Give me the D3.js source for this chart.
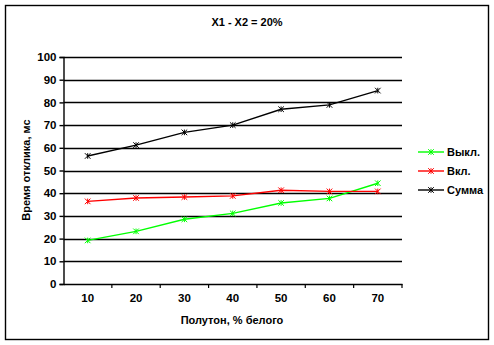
<!DOCTYPE html>
<html>
<head>
<meta charset="utf-8">
<script src="https://cdn.jsdelivr.net/npm/d3@7"></script>
<style>
  html, body { margin: 0; padding: 0; background: #fff; }
  svg text { font-family: "Liberation Sans", Arial, sans-serif; font-weight: bold; fill: #000; }
</style>
</head>
<body>
<svg id="chart" width="494" height="345"></svg>
<script>
// Halftone categories (% white)
const categories = ["10", "20", "30", "40", "50", "60", "70"];
// Response time, ms
const offValues = [19.2, 23.2, 28.5, 31.1, 35.7, 37.7, 44.4];
const onValues  = [36.4, 37.9, 38.3, 38.8, 41.3, 40.8, 40.8];
const sumValues = [56.4, 61.2, 66.8, 70.0, 77.0, 78.9, 85.2];
const yTicks = [0, 10, 20, 30, 40, 50, 60, 70, 80, 90, 100];

const seriesNames = ["Выкл.", "Вкл.", "Сумма"];
const seriesColors = ["#00ff00", "#ff0000", "#000000"];
const seriesValues = [offValues, onValues, sumValues];

const svg = d3.select("#chart");

// Chart frame
svg.append("rect")
  .attr("x", 5.5).attr("y", 5.5)
  .attr("width", 483).attr("height", 334)
  .attr("fill", "#fff").attr("stroke", "#000").attr("stroke-width", 1.4);

const plot = { left: 63.5, right: 402, top: 57, bottom: 284 };

const x = d3.scaleBand().domain(categories).range([plot.left, plot.right]);
const y = d3.scaleLinear().domain([0, 100]).range([plot.bottom, plot.top]);

// Gridlines
svg.append("g")
  .selectAll("line")
  .data(yTicks.filter(d => d > 0))
  .join("line")
  .attr("x1", plot.left).attr("x2", plot.right)
  .attr("y1", d => Math.round(y(d)) + 0.5).attr("y2", d => Math.round(y(d)) + 0.5)
  .attr("stroke", "#000").attr("stroke-width", 1.4);

// Y axis
const yAxis = svg.append("g")
  .attr("transform", `translate(${plot.left},0)`)
  .call(d3.axisLeft(y).tickValues(yTicks).tickSize(4).tickPadding(3));
yAxis.selectAll("text").attr("font-size", "11.5px");
yAxis.selectAll("line, path").attr("stroke", "#000").attr("stroke-width", 1.4);

// X axis
const xAxis = svg.append("g")
  .attr("transform", `translate(0,${plot.bottom})`)
  .call(d3.axisBottom(x).tickSize(0).tickPadding(10));
xAxis.select(".domain").attr("stroke", "#000").attr("stroke-width", 1.4);
xAxis.selectAll("text").attr("font-size", "11.5px");
// Tick marks between categories
svg.append("g")
  .selectAll("line")
  .data(categories)
  .join("line")
  .attr("x1", d => x(d) + x.bandwidth()).attr("x2", d => x(d) + x.bandwidth())
  .attr("y1", plot.bottom).attr("y2", plot.bottom + 4)
  .attr("stroke", "#000").attr("stroke-width", 1.2);

// Star marker: an X crossed by a short vertical bar
function marker(g, cx, cy, color) {
  const s = 2.8;
  g.append("path")
    .attr("d", `M${cx - s},${cy - s}L${cx + s},${cy + s}M${cx - s},${cy + s}L${cx + s},${cy - s}M${cx},${cy - s}L${cx},${cy + s}`)
    .attr("stroke", color).attr("stroke-width", 1).attr("fill", "none");
}

const line = d3.line()
  .x((d, i) => x(categories[i]) + x.bandwidth() / 2)
  .y(d => y(d));

seriesValues.forEach((vals, k) => {
  const g = svg.append("g");
  g.append("path")
    .datum(vals)
    .attr("d", line)
    .attr("fill", "none")
    .attr("stroke", seriesColors[k])
    .attr("stroke-width", 1.4);
  vals.forEach((v, i) => marker(g, x(categories[i]) + x.bandwidth() / 2, y(v), seriesColors[k]));
});

// Legend
const legend = svg.append("g");
seriesNames.forEach((name, k) => {
  const ly = 152 + k * 19;
  legend.append("line")
    .attr("x1", 418).attr("x2", 444).attr("y1", ly).attr("y2", ly)
    .attr("stroke", seriesColors[k]).attr("stroke-width", 1.4);
  marker(legend, 431, ly, seriesColors[k]);
  legend.append("text")
    .attr("x", 447).attr("y", ly + 4)
    .attr("font-size", "11px")
    .text(name);
});

// Title
svg.append("text")
  .attr("x", 247).attr("y", 26)
  .attr("text-anchor", "middle").attr("font-size", "11px")
  .text("X1 - X2 = 20%");

// Axis titles
svg.append("text")
  .attr("x", 232).attr("y", 324)
  .attr("text-anchor", "middle").attr("font-size", "11px")
  .text("Полутон, % белого");

svg.append("text")
  .attr("transform", "translate(30,170) rotate(-90)")
  .attr("text-anchor", "middle").attr("font-size", "11px")
  .text("Время отклика, мс");
</script>
</body>
</html>
